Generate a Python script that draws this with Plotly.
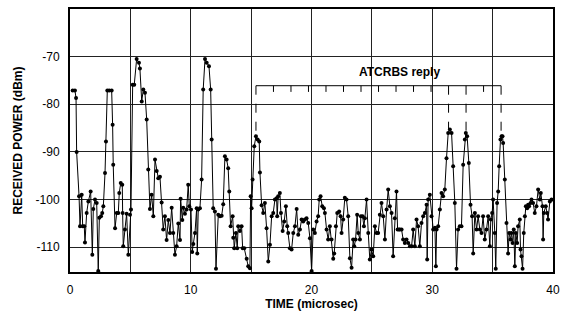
import plotly.graph_objects as go

# ---- data (time in microseconds, received power in dBm) ----
time_us = [
 0.22,0.41,0.5,0.55,0.75,0.83,0.97,1.05,1.18,1.24,1.38,1.52,1.71,1.85,1.93,2.07,2.21,2.34,2.43,2.57,
 2.67,2.76,2.9,2.98,3.09,3.25,3.45,3.53,3.58,3.73,3.87,4.0,4.08,4.2,4.33,4.36,4.41,4.55,4.69,4.83,
 4.97,5.05,5.19,5.32,5.52,5.71,5.79,5.94,6.07,6.21,6.35,6.48,6.62,6.76,6.9,7.04,7.18,7.31,7.45,7.59,
 7.72,7.86,8.0,8.14,8.28,8.42,8.55,8.69,8.83,8.97,9.11,9.16,9.3,9.38,9.52,9.66,9.79,9.88,10.02,10.12,
 10.21,10.35,10.49,10.54,10.62,10.76,10.9,11.03,11.18,11.32,11.51,11.65,11.73,11.86,12.0,12.09,12.28,12.42,12.56,12.69,
 12.83,12.97,13.1,13.19,13.3,13.47,13.52,13.6,13.74,13.85,13.93,14.07,14.21,14.3,14.43,14.63,14.76,14.9,14.96,15.04,
 15.12,15.26,15.4,15.54,15.67,15.73,15.87,16.0,16.14,16.28,16.42,16.56,16.7,16.83,16.97,17.11,17.16,17.24,17.38,17.47,
 17.61,17.74,17.88,17.99,18.07,18.21,18.35,18.49,18.63,18.77,18.9,19.04,19.18,19.31,19.45,19.59,19.73,19.87,20.01,20.14,
 20.28,20.42,20.55,20.64,20.75,20.89,21.03,21.11,21.25,21.38,21.52,21.66,21.8,21.88,22.02,22.13,22.29,22.41,22.49,22.62,
 22.76,22.9,23.04,23.18,23.32,23.45,23.54,23.65,23.78,23.87,24.01,24.09,24.23,24.34,24.42,24.56,24.7,24.83,24.97,25.11,
 25.25,25.39,25.52,25.66,25.8,25.94,26.08,26.22,26.35,26.49,26.63,26.76,26.9,27.04,27.13,27.24,27.32,27.46,27.59,27.73,
 27.87,28.01,28.15,28.29,28.42,28.56,28.7,28.83,28.97,29.11,29.25,29.39,29.53,29.58,29.66,29.8,29.94,30.08,30.22,30.3,
 30.36,30.49,30.63,30.77,30.9,31.04,31.18,31.32,31.46,31.6,31.73,31.87,32.01,32.14,32.28,32.42,32.56,32.7,32.78,32.89,
 33.03,33.17,33.3,33.39,33.53,33.67,33.8,33.94,34.08,34.21,34.35,34.49,34.63,34.77,34.85,34.96,35.04,35.18,35.26,35.37,
 35.46,35.54,35.65,35.74,35.82,35.87,36.01,36.15,36.28,36.37,36.48,36.56,36.65,36.75,36.84,36.92,37.03,37.11,37.25,37.31,
 37.39,37.48,37.58,37.67,37.75,37.86,37.94,38.02,38.14,38.22,38.35,38.49,38.63,38.77,38.91,38.99,39.13,39.18,39.24,39.4,
 39.51,39.59,39.74,39.88,
]
power_dbm = [
 -77.1,-77.1,-78.7,-90,-99.3,-105.6,-99,-105.6,-105.6,-109,-102.8,-100.4,-98.3,-111.6,-102,-100,-100.7,-115,-103.8,-103.5,
 -102.8,-101.4,-94.4,-87.8,-77.1,-77.1,-77.1,-84.3,-92.7,-106,-102.8,-102.8,-98.6,-96.5,-96.9,-102.8,-109.8,-106.3,-103,-111.6,
 -103.2,-102.1,-75.9,-75.9,-70.5,-71.3,-72.5,-79.4,-76.9,-77.6,-83.2,-93.7,-102,-99,-103.5,-91.6,-94,-95.5,-95.2,-100.6,
 -106.3,-103.5,-108.5,-104.3,-107,-101.7,-107,-111.6,-109.8,-105,-108.5,-99.8,-104.3,-101.7,-103,-102.1,-96.9,-101.4,-102.1,-111,
 -109.3,-107,-101.8,-111.3,-102.1,-101.8,-95.8,-76.9,-70.5,-71.3,-72,-76.9,-87.4,-101.8,-102.5,-114.5,-103.2,-103.5,-103.4,-101,
 -90.9,-91.6,-93.4,-98.3,-105.6,-103.5,-108,-110.2,-107,-110.2,-105.6,-106.6,-105.6,-110.2,-110.2,-112.4,-114,-114.4,-99.3,-101.8,
 -95.8,-88.8,-86.7,-87.4,-87.8,-94.3,-101.2,-102.8,-100.7,-106,-113,-109.5,-103.5,-102.8,-100,-99.7,-103.5,-99.3,-98.6,-102.8,
 -106.6,-104.6,-101.4,-105.6,-107,-110.2,-110.5,-107,-105.6,-102,-107.4,-106.3,-104.2,-104.6,-104.2,-103.9,-104.9,-108.1,-115,-106.3,
 -107,-104.6,-103.5,-100,-99.3,-101.4,-101.8,-102.8,-106.3,-108.4,-105.6,-108.4,-112.4,-111.3,-105.6,-102.8,-102.5,-103.5,-107,-104.2,
 -99.6,-100,-103.5,-112.3,-114.3,-108.4,-109.8,-108.4,-103.2,-107,-108.4,-103.5,-103.5,-105.6,-103.9,-100,-107,-112.6,-110.5,-111.9,
 -105.6,-107,-107,-103.2,-100.7,-103.5,-108.4,-102.1,-97.9,-101.4,-102.8,-111.9,-103.9,-98.3,-106.3,-106.3,-106.3,-106.3,-108.4,-109.1,
 -108.4,-109.1,-109.8,-109.8,-106.3,-109.8,-104.2,-105.6,-109.8,-104.9,-103.5,-102.8,-101.1,-112.6,-100,-99,-103.5,-106.3,-105.9,-114,
 -106.3,-105.6,-102.1,-98.6,-99.3,-97.9,-91.3,-86,-85.3,-86,-93,-100.7,-114.5,-106.3,-105.6,-105.6,-92.7,-87.4,-86,-86.7,
 -92.3,-101.1,-103.5,-111.3,-102.8,-106.3,-103.5,-106.3,-107,-103.5,-108.4,-106.3,-103.5,-109.8,-104.2,-102.8,-100,-107,-114.5,-100.7,
 -98.3,-93,-87.4,-86.7,-86.7,-88.1,-95.8,-104.9,-111.3,-107,-108.4,-107,-109.1,-106.3,-114,-107,-109.1,-105.6,-104.2,-110.5,
 -111.9,-114.5,-107,-103.5,-101.4,-101.8,-101.1,-101.4,-100.7,-100,-100.7,-102.8,-101.4,-97.9,-100,-98.6,-101.4,-108.4,-102.8,-101.4,
 -102.8,-104.2,-100.4,-100,
]

x_tick_vals = [0, 5, 10, 15, 20, 25, 30, 35, 40]
x_tick_text = ["0", "", "10", "", "20", "", "30", "", "40"]
y_tick_vals = [-110, -100, -90, -80, -70]
y_tick_text = ["-110", "-100", "-90", "-80", "-70"]

# ATCRBS reply bracket
reply_f1 = 15.4          # first framing pulse (us)
pulse_spacing = 1.45     # us between reply positions
n_positions = 15         # F1 .. F2
bracket_level = -76.1    # dBm
tick_len = 1.3           # dBm
dashed_positions = [0, 11, 12, 14]          # indices of positions with dashed drop lines
dashed_ends = [-86.0, -85.3, -86.0, -86.5]  # peak level each drop line reaches
label_text = "ATCRBS reply"
label_time = 27.3
label_power = -73.3

font = "Arial, Liberation Sans, Helvetica, sans-serif"

fig = go.Figure()
fig.add_trace(go.Scatter(
    x=time_us, y=power_dbm, mode="lines+markers",
    line=dict(color="black", width=1),
    marker=dict(color="black", size=4),
    showlegend=False,
))

pos = [reply_f1 + i * pulse_spacing for i in range(n_positions)]
shapes = [dict(type="line", xref="x", yref="y", x0=pos[0], x1=pos[-1],
               y0=bracket_level, y1=bracket_level, line=dict(color="black", width=1))]
for i, p in enumerate(pos):
    if i in dashed_positions:
        continue
    shapes.append(dict(type="line", xref="x", yref="y", x0=p, x1=p,
                       y0=bracket_level, y1=bracket_level - tick_len,
                       line=dict(color="black", width=1)))
for idx, end in zip(dashed_positions, dashed_ends):
    p = pos[idx]
    shapes.append(dict(type="line", xref="x", yref="y", x0=p, x1=p,
                       y0=bracket_level, y1=end,
                       line=dict(color="black", width=1, dash="dash")))

fig.update_layout(
    width=563, height=327,
    margin=dict(l=70, r=10, t=9, b=55),
    paper_bgcolor="white", plot_bgcolor="white",
    font=dict(family=font, size=12, color="black"),
    shapes=shapes,
    annotations=[dict(x=label_time, y=label_power, xref="x", yref="y",
                      text="<b>" + label_text + "</b>", showarrow=False,
                      font=dict(size=12, family=font, color="black"))],
)
fig.update_xaxes(
    range=[0, 40], tickvals=x_tick_vals, ticktext=x_tick_text,
    showgrid=True, gridcolor="#222", gridwidth=1,
    showline=True, linecolor="black", linewidth=2, mirror=True,
    ticks="", zeroline=False, ticklabelstandoff=6, automargin=False,
    title=dict(text="<b>TIME (microsec)</b>", font=dict(size=12), standoff=0),
)
fig.update_yaxes(
    range=[-115.2, -60], tickvals=y_tick_vals, ticktext=y_tick_text,
    showgrid=True, gridcolor="#222", gridwidth=1,
    showline=True, linecolor="black", linewidth=2, mirror=True,
    ticks="", zeroline=False, ticklabelstandoff=6, automargin=False,
    title=dict(text="<b>RECEIVED POWER (dBm)</b>", font=dict(size=12), standoff=10),
)

fig.write_html("out.html")
